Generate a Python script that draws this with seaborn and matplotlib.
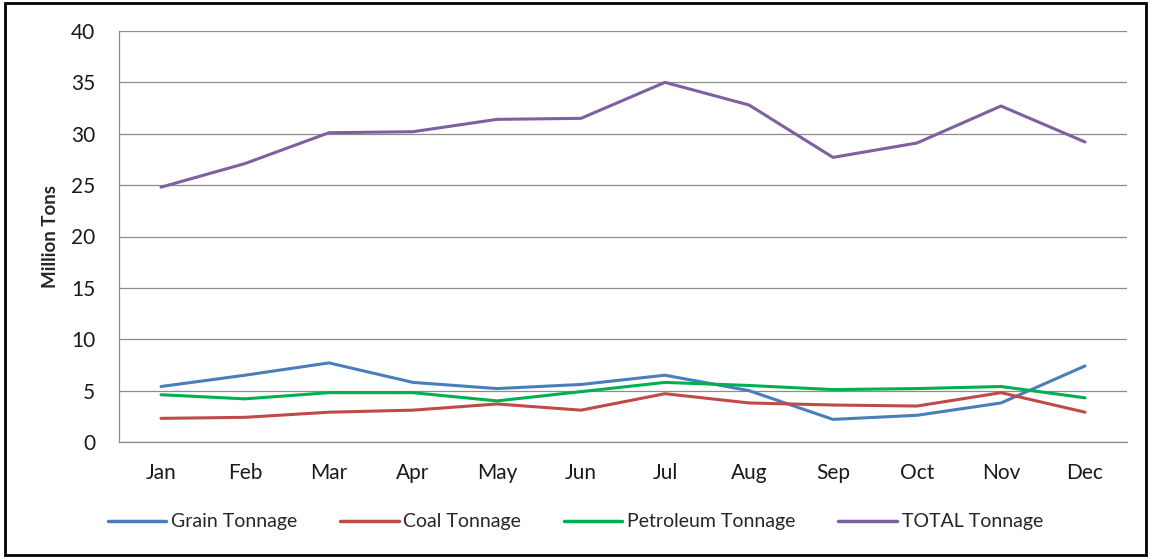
import matplotlib
matplotlib.use("Agg")
import matplotlib.pyplot as plt
import seaborn as sns
import pandas as pd
from matplotlib.patches import Rectangle

months = ["Jan", "Feb", "Mar", "Apr", "May", "Jun", "Jul", "Aug", "Sep", "Oct", "Nov", "Dec"]
grain = [5.4, 6.5, 7.7, 5.8, 5.2, 5.6, 6.5, 5.0, 2.2, 2.6, 3.8, 7.4]
coal = [2.3, 2.4, 2.9, 3.1, 3.7, 3.1, 4.7, 3.8, 3.6, 3.5, 4.8, 2.9]
petroleum = [4.6, 4.2, 4.8, 4.8, 4.0, 4.9, 5.8, 5.5, 5.1, 5.2, 5.4, 4.3]
total = [24.8, 27.1, 30.1, 30.2, 31.4, 31.5, 35.0, 32.8, 27.7, 29.1, 32.7, 29.2]
series_names = ["Grain Tonnage", "Coal Tonnage", "Petroleum Tonnage", "TOTAL Tonnage"]
yticks = [0, 5, 10, 15, 20, 25, 30, 35, 40]

colors = ["#4A7EBB", "#BE4B48", "#00B050", "#7D60A0"]

rows = []
for name, vals in zip(series_names, [grain, coal, petroleum, total]):
    for i, (m, v) in enumerate(zip(months, vals)):
        rows.append({"Month": m, "idx": i, "Series": name, "Value": v})
df = pd.DataFrame(rows)

sns.set_theme(style="white")
plt.rcParams["font.family"] = ["Lato", "DejaVu Sans"]

fig = plt.figure(figsize=(11.51, 5.57), dpi=100)
ax = fig.add_axes([119 / 1151, 1 - 442 / 557, (1127 - 119) / 1151, (442 - 31) / 557])

sns.lineplot(data=df, x="idx", y="Value", hue="Series", hue_order=series_names,
             palette=colors, linewidth=2.2, sort=False, ax=ax, legend=False)

ax.set_xlim(-0.5, 11.5)
ax.set_ylim(0, 40)
ax.set_yticks(yticks)
ax.set_yticklabels([str(t) for t in yticks], fontsize=15, color="#1a1a1a")
ax.set_xticks(range(len(months)))
ax.set_xticklabels(months, fontsize=15, color="#1a1a1a")
ax.tick_params(axis="both", length=0)
ax.tick_params(axis="x", pad=15)
ax.tick_params(axis="y", pad=17)
ax.set_xlabel("")
ax.set_ylabel("Million Tons", fontsize=13.5, fontweight="bold", labelpad=9)
ax.grid(axis="y", color="#8C8C8C", linewidth=0.9)
ax.set_axisbelow(True)
for s in ["top", "right"]:
    ax.spines[s].set_visible(False)
for s in ["left", "bottom"]:
    ax.spines[s].set_color("#8C8C8C")
    ax.spines[s].set_linewidth(0.9)

handles = [plt.Line2D([], [], color=c, linewidth=2.5) for c in colors]
fig.legend(handles, series_names, loc="center", bbox_to_anchor=(0.5, 1 - 522 / 557),
           ncol=4, frameon=False, fontsize=14, handlelength=3.0, handletextpad=0.25,
           columnspacing=2.2)

fig.patches.append(Rectangle((0.004, 0.004), 0.992, 0.99, transform=fig.transFigure,
                             fill=False, edgecolor="black", linewidth=2))

fig.savefig("out.png", dpi=100)
